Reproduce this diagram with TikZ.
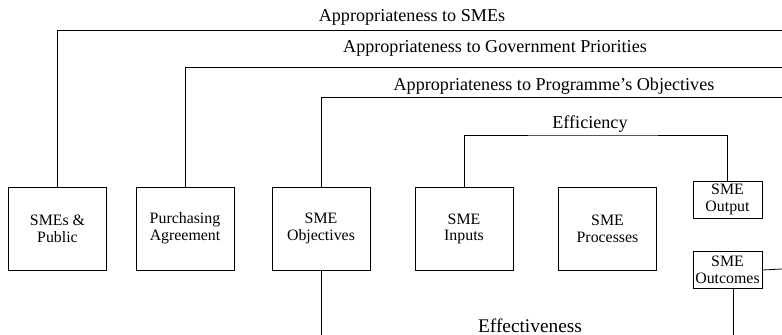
\documentclass[tikz,border=0pt]{standalone}
\usepackage{fontspec}
\setmainfont{Liberation Serif}
\usetikzlibrary{calc}
\tikzset{>=latex}
\tikzset{stage/.style={draw,line width=0.6pt,align=center,inner sep=0pt,minimum width=73.5pt,minimum height=62.25pt,font=\fontsize{11.9}{12.6}\selectfont}}
\tikzset{small stage/.style={stage,minimum width=51.75pt,minimum height=27.75pt}}
\tikzset{crit/.style={anchor=base,inner sep=0pt,font=\fontsize{13.6}{16}\selectfont}}

\begin{document}
\begin{tikzpicture}[x=0.75pt,y=-0.75pt,line width=0.6pt]
  \useasboundingbox (0,0) rectangle (782,335);
  % Boxes
  \node[stage] (smes) at (57.5,228.5) {SMEs \&\\Public};
  \node[stage] (purch) at (185,228.5) {Purchasing\\Agreement};
  \node[stage] (obj) at (321,228.5) {SME\\Objectives};
  \node[stage] (inp) at (464,229) {SME\\Inputs};
  \node[stage] (proc) at (607.5,229) {SME\\Processes};
  \node[small stage] (outp) at (727.5,199.5) {SME\\Output};
  \node[small stage] (outc) at (727.5,270) {SME\\Outcomes};
  % Labels
  \node[crit] (lsme) at (412,22) {Appropriateness to SMEs};
  \node[crit] (lgov) at (495,53) {Appropriateness to Government Priorities};
  \node[crit] (lprog) at (554,91) {Appropriateness to Programme’s Objectives};
  \node[crit] (leff) at (590,128) {Efficiency};
  \node[crit,font=\fontsize{14.5}{16}\selectfont] (lefv) at (530,332) {Effectiveness};
  % Free ends
  \coordinate (r1) at (782,30);
  \coordinate (r2) at (782,67);
  \coordinate (r3) at (782,97);
  \coordinate (r4) at (782,269);
  \coordinate (e1) at (590,135);
  \coordinate (b1) at (321,335);
  \coordinate (b2) at (733,335);
  % Lines
  \draw (smes.north) |- (r1);
  \draw (purch.north) |- (r2);
  \draw (obj.north) |- (r3);
  \draw (inp.north) |- (e1) -| (outp.north);
  \draw (obj.south) -- (b1);
  \draw (outc.east) -- (r4);
  \draw (outc.south -| b2) -- (b2);
\end{tikzpicture}
\end{document}
